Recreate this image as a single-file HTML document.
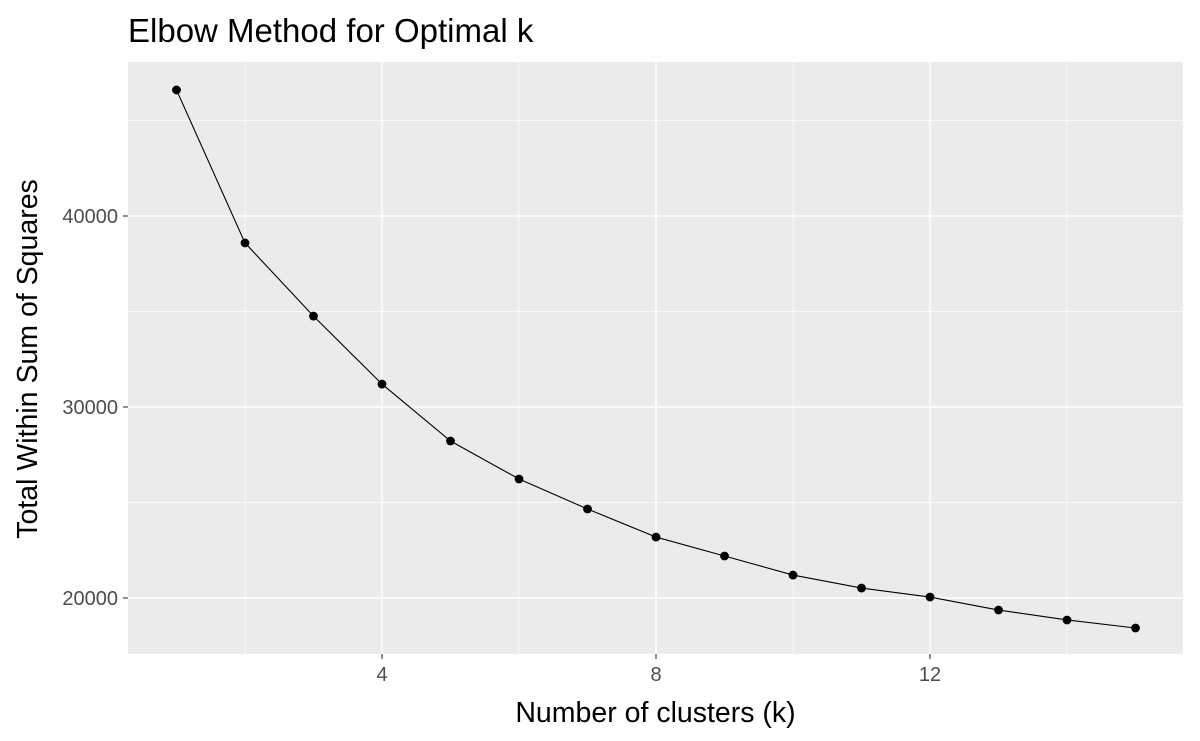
<!DOCTYPE html>
<html><head><meta charset="utf-8"><style>
body{margin:0;background:#fff;}
svg{display:block;font-family:"Liberation Sans",Arial,sans-serif;}
</style></head><body>
<svg id="chart" width="1200" height="741">
<text x="128" y="42" font-size="33" fill="#000">Elbow Method for Optimal k</text>
<rect x="128" y="62" width="1055" height="592" fill="#EBEBEB"/>
<g id="grid"></g>
<g id="marks"></g>
<g id="axes"></g>
<text x="655.5" y="722" font-size="28.5" text-anchor="middle" fill="#000">Number of clusters (k)</text>
<text transform="translate(37,359) rotate(-90)" font-size="28.5" text-anchor="middle" fill="#000">Total Within Sum of Squares</text>
</svg>
<script>
const ks=[1,2,3,4,5,6,7,8,9,10,11,12,13,14,15];
const wss=[46600,38590,34760,31200,28220,26230,24660,23190,22200,21200,20520,20050,19370,18850,18430];
const xTicks=[4,8,12];
const xMinor=[2,6,10,14];
const yTicks=[20000,30000,40000];
const yMinor=[25000,35000,45000];
const NS="http://www.w3.org/2000/svg";
const X=v=>176.5+(v-1)*68.5;
const Y=v=>598-(v-20000)*0.0191;
function mk(tag,attrs,parent){const e=document.createElementNS(NS,tag);for(const k in attrs)e.setAttribute(k,attrs[k]);parent.appendChild(e);return e;}
const grid=document.getElementById('grid'),marks=document.getElementById('marks'),axes=document.getElementById('axes');
yMinor.forEach(v=>{const l=mk('line',{x1:128,x2:1183,y1:Y(v),y2:Y(v),stroke:'#fff','stroke-width':0.7},grid);

});
xMinor.forEach(v=>{const l=mk('line',{x1:X(v),x2:X(v),y1:62,y2:654,stroke:'#fff','stroke-width':0.7},grid);

});
yTicks.forEach(v=>{const l=mk('line',{x1:128,x2:1183,y1:Y(v),y2:Y(v),stroke:'#fff','stroke-width':1.4},grid);


const t=mk('line',{x1:123,x2:128,y1:Y(v),y2:Y(v),stroke:'#333','stroke-width':1.1},axes);


const tx=mk('text',{x:118,y:Y(v)+7,'font-size':20,'text-anchor':'end',fill:'#4D4D4D'},axes);tx.textContent=v;

});
xTicks.forEach(v=>{const l=mk('line',{x1:X(v),x2:X(v),y1:62,y2:654,stroke:'#fff','stroke-width':1.4},grid);


const t=mk('line',{x1:X(v),x2:X(v),y1:654,y2:659,stroke:'#333','stroke-width':1.1},axes);


const tx=mk('text',{x:X(v),y:681,'font-size':20,'text-anchor':'middle',fill:'#4D4D4D'},axes);tx.textContent=v;

});
const line=mk('polyline',{points:ks.map((k,i)=>X(k)+','+Y(wss[i])).join(' '),fill:'none',stroke:'#000','stroke-width':1.1},marks);


ks.forEach((k,i)=>{const c=mk('circle',{cx:X(k),cy:Y(wss[i]),r:4.4,fill:'#000'},marks);

});
</script>
</body></html>
